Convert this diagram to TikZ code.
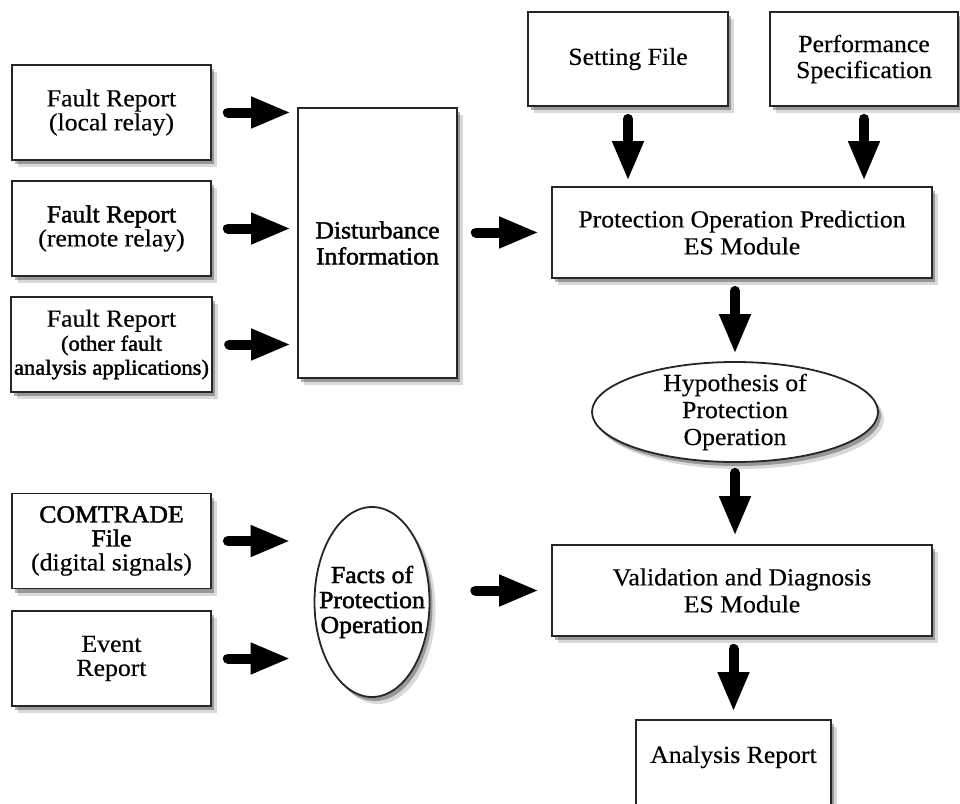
\documentclass[tikz,border=0pt]{standalone}
\usepackage{fontspec}
\setmainfont{Liberation Serif}[FakeStretch=1.05,FakeBold=0.4]
\newfontfamily\heavy{Liberation Serif}[FakeStretch=1.05,FakeBold=1.8]
\usetikzlibrary{arrows.meta,shapes.geometric,shadows}
\newcommand{\smallheavy}{\heavy\fontsize{21.5}{22}\selectfont}
\tikzset{
  box/.style={draw=black!85, line width=1.8pt, fill=white, align=center,
    drop shadow={shadow xshift=3pt,shadow yshift=-4pt,fill=black,opacity=.3},
    drop shadow={shadow xshift=6pt,shadow yshift=-7pt,fill=black,opacity=.15}},
  leftbox/.style={box, minimum width=199pt, minimum height=95pt,
    font=\fontsize{24.5}{24}\selectfont},
  widebox/.style={box, minimum width=380pt, minimum height=91pt,
    font=\fontsize{24.5}{27}\selectfont},
  oval/.style={box, ellipse},
  fat/.style={line width=10pt, line cap=round, -{Triangle[length=40pt,width=29pt]}},
}
\begin{document}
\begin{tikzpicture}[x=1pt,y=-1pt,font=\fontsize{24.5}{26}\selectfont]
  \useasboundingbox (0,0) rectangle (960,803);
  % fault reports
  \node[leftbox] (local) at (111.5,112.5) {Fault Report\\(local relay)};
  \node[leftbox] (remote) at (111.5,228.5) {{\heavy Fault Report}\\(remote relay)};
  \node[leftbox] (other) at (111.5,344.5)
    {Fault Report\\{\smallheavy (other fault}\\{\smallheavy analysis applications)}};
  \node[box, minimum width=159pt, minimum height=270pt] (dist) at (377.5,243)
    {\heavy Disturbance\\\heavy Information};
  % settings and specs
  \node[box, minimum width=200pt, minimum height=94pt] (setting) at (628,59) {Setting File};
  \node[box, minimum width=188pt, minimum height=94pt] (perf) at (864,59)
    {Performance\\Specification};
  % prediction
  \node[widebox] (predict) at (742,232.5) {Protection Operation Prediction\\ES Module};
  \node[oval, minimum width=286pt, minimum height=100pt, inner xsep=0pt, inner ysep=-5pt,
    font=\fontsize{24.5}{27}\selectfont] (hypo) at (735,412)
    {Hypothesis of\\Protection\\Operation};
  % recorded data
  \node[leftbox] (comtrade) at (111.5,541)
    {{\heavy COMTRADE}\\{\heavy File}\\(digital signals)};
  \node[leftbox] (event) at (111.5,658.5) {Event\\Report};
  \node[oval, minimum width=115pt, minimum height=190pt, inner xsep=-14pt,
    font=\fontsize{24.5}{25}\selectfont] (facts) at (372,602)
    {\heavy Facts of\\\heavy Protection\\\heavy Operation};
  % validation
  \node[widebox] (valid) at (742,590.5) {Validation and Diagnosis\\ES Module};
  \node[box, minimum width=195pt, anchor=north, inner ysep=4pt,
    text height=39pt, text depth=80pt] (report) at (733.5,719) {Analysis Report};
  % arrows
  \draw[fat, shorten <=16pt, shorten >=6pt] (local.east) -- (local.east -| dist.west);
  \draw[fat, shorten <=16pt, shorten >=6pt] (remote.east) -- (remote.east -| dist.west);
  \draw[fat, shorten <=16pt, shorten >=6pt] (other.east) -- (other.east -| dist.west);
  \draw[fat, shorten <=18pt, shorten >=12pt] (predict.west -| dist.east) -- (predict.west);
  \draw[fat, shorten <=12pt, shorten >=5pt] (setting.south) -- (setting.south |- predict.north);
  \draw[fat, shorten <=12pt, shorten >=5pt] (perf.south) -- (perf.south |- predict.north);
  \draw[fat, shorten <=12pt, shorten >=7pt] (hypo.north |- predict.south) -- (hypo.north);
  \draw[fat, shorten <=10pt, shorten >=8pt] (hypo.south) -- (hypo.south |- valid.north);
  \draw[fat, shorten <=16pt, shorten >=23pt] (comtrade.east) -- (comtrade.east -| facts.west);
  \draw[fat, shorten <=16pt, shorten >=23pt] (event.east) -- (event.east -| facts.west);
  \draw[fat, shorten <=45pt, shorten >=12pt] (valid.west -| facts.east) -- (valid.west);
  \draw[fat, shorten <=12pt, shorten >=7pt] (report.north |- valid.south) -- (report.north);
\end{tikzpicture}
\end{document}
